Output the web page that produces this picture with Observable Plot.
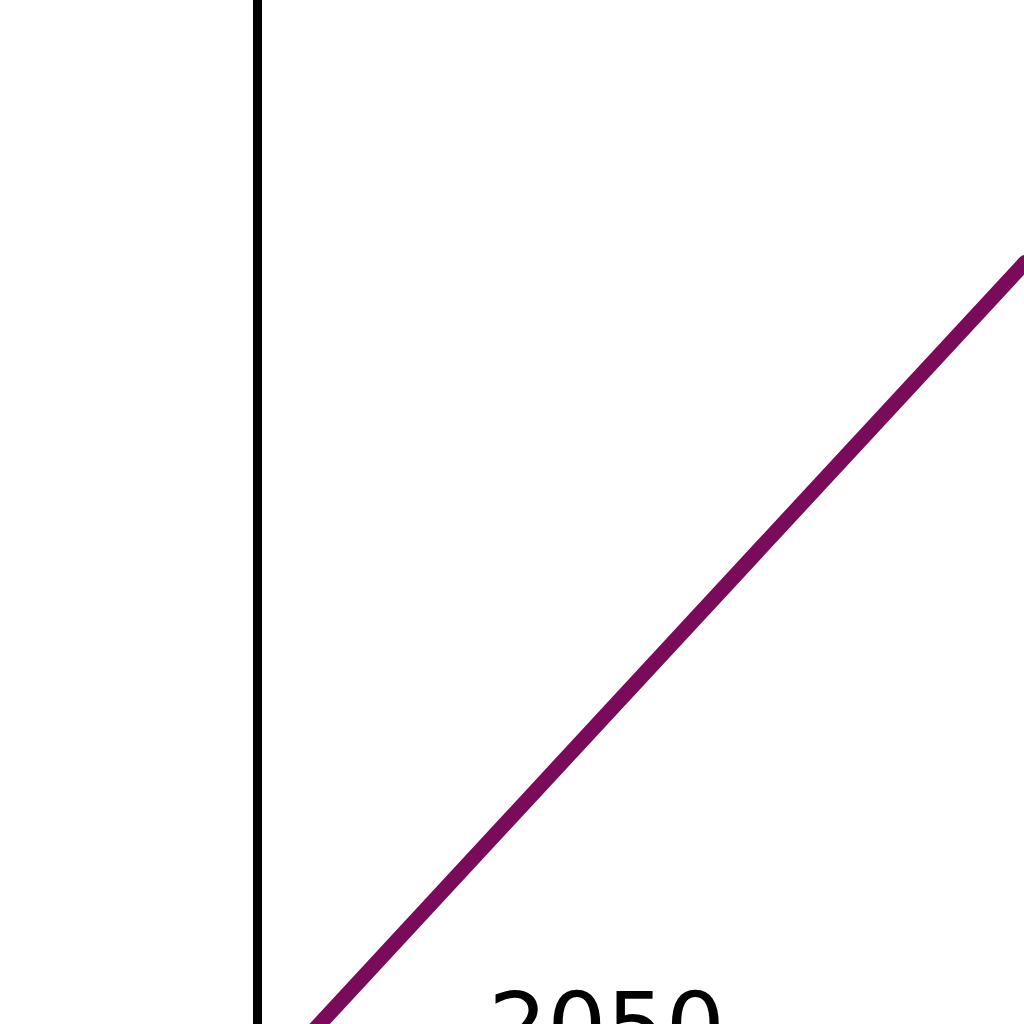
<!DOCTYPE html>
<html>
<head>
<meta charset="utf-8">
<script src="https://cdn.jsdelivr.net/npm/d3@7"></script>
<script src="https://cdn.jsdelivr.net/npm/@observablehq/plot@0.6"></script>
<style>
  body { margin: 0; background: white; }
</style>
</head>
<body>
<div id="chart"></div>
<script>
// the segment of the series that shows in the crop
const years = [2040, 2062]
const values = [-13.2, 90.4]
// the vertical rule and the one tick label that can be seen
const ruleYears = [2040]
const tickYears = [2050]

const data = years.map((year, i) => ({year, value: values[i]}))

let chart = Plot.plot({
  width: 1024,
  height: 1024,
  marginBottom: 37,
  x: {domain: [2040, 2050], range: [257, 606], axis: null},
  y: {domain: [0, 100], range: [985, 185], axis: null},
  marks: [
    Plot.ruleX(ruleYears, {y1: -30, y2: 130, stroke: "black", strokeWidth: 9}),
    Plot.line(data, {x: "year", y: "value", stroke: "#7a0b5b", strokeWidth: 15}),
    Plot.axisX({ticks: tickYears, tickSize: 0, tickPadding: 5, fontSize: 93, tickFormat: d => String(d), label: null})
  ],
  style: {
    fontFamily: "DejaVu Sans",
    background: "white",
  },
});
d3.select('#chart').append(() => chart)
</script>
</body>
</html>
